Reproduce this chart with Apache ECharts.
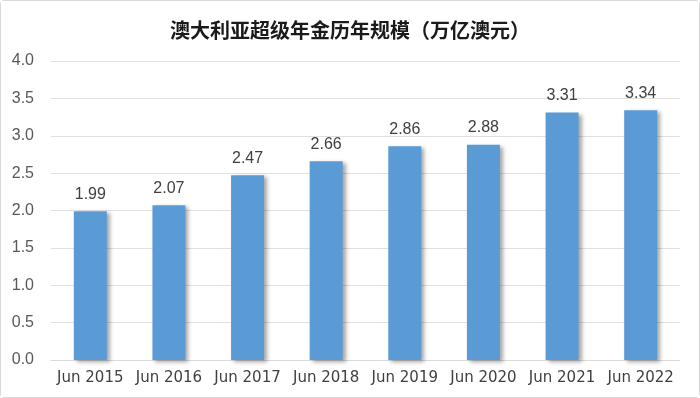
<!DOCTYPE html>
<html><head><meta charset="utf-8">
<script src="https://cdn.jsdelivr.net/npm/echarts@6/dist/echarts.min.js"></script>
<style>
html,body{margin:0;padding:0;background:#fff;}
#c{position:absolute;left:0;top:0;width:698px;height:396px;border:1px solid #d9d9d9;border-radius:4px;}
</style></head><body>
<div id="c"></div>
<script>
const categories = ['Jun 2015','Jun 2016','Jun 2017','Jun 2018','Jun 2019','Jun 2020','Jun 2021','Jun 2022'];
const values = [1.99, 2.07, 2.47, 2.66, 2.86, 2.88, 3.31, 3.34];
const titleText = '澳大利亚超级年金历年规模（万亿澳元）';

const chart = echarts.init(document.getElementById('c'), null, {renderer:'canvas'});
chart.setOption({
  animation:false,
  backgroundColor:'#fff',
  title:{text:titleText,left:'center',top:14,textStyle:{fontFamily:'Noto Sans CJK SC',fontSize:20,fontWeight:'bold',color:'#1a1a1a'}},
  grid:{left:50,right:19,top:60,bottom:37,containLabel:false},
  xAxis:{type:'category',data:categories,
    axisLine:{show:true,lineStyle:{color:'#d9d9d9',width:1}},
    axisTick:{show:false},
    axisLabel:{interval:0,color:'#404040',fontSize:15,fontFamily:'DejaVu Sans',margin:11}},
  yAxis:{type:'value',min:0,max:4,interval:0.5,
    axisLine:{show:false},axisTick:{show:false},
    splitLine:{lineStyle:{color:'#e0e0e0',width:1}},
    axisLabel:{color:'#595959',fontSize:16,fontFamily:'Liberation Sans',margin:17,formatter:v=>v.toFixed(1)}},
  series:[{type:'bar',data:values,barWidth:33,
    itemStyle:{color:'#5b9bd5',shadowColor:'rgba(0,0,0,0.35)',shadowBlur:4,shadowOffsetX:3,shadowOffsetY:2},
    label:{show:true,position:'top',distance:9,color:'#404040',fontSize:16,fontFamily:'Liberation Sans',formatter:p=>p.value.toFixed(2)}}]
});
</script></body></html>
